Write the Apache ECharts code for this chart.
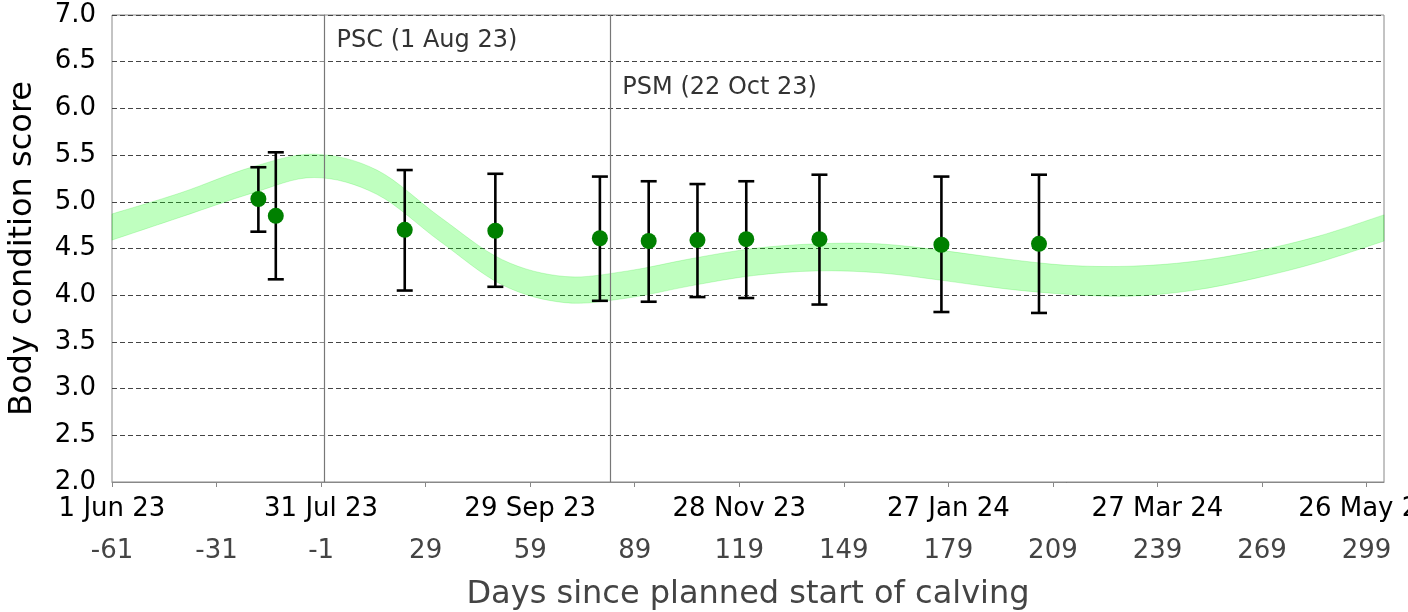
<!DOCTYPE html>
<html>
<head>
<meta charset="utf-8">
<script src="https://cdn.jsdelivr.net/npm/echarts@6/dist/echarts.min.js"></script>
<style>
  html, body { margin: 0; padding: 0; background: #fff; }
  #chart { width: 1408px; height: 612px; }
</style>
</head>
<body>
<div id="chart"></div>
<script>
// target band (lower / upper edge), days since PSC
const bandDays  = [-61, -41, -21, -3, 15, 33, 51, 69, 87, 105, 123, 141, 159, 177, 195, 213, 231, 249, 267, 285, 304]
const bandLower = [4.59, 4.84, 5.09, 5.26, 5.08, 4.58, 4.11, 3.92, 3.97, 4.10, 4.21, 4.26, 4.24, 4.16, 4.07, 4.01, 3.99, 4.05, 4.18, 4.35, 4.58]
const bandUpper = [4.87, 5.10, 5.37, 5.51, 5.34, 4.84, 4.38, 4.20, 4.26, 4.39, 4.50, 4.55, 4.55, 4.48, 4.39, 4.32, 4.31, 4.36, 4.47, 4.63, 4.86]

// observed herd scores
const obsDays = [-19, -14, 23, 49, 79, 93, 107, 121, 142, 177, 205]
const obsMean = [5.03, 4.85, 4.70, 4.69, 4.61, 4.58, 4.59, 4.60, 4.60, 4.54, 4.55]
const obsLow  = [4.68, 4.17, 4.05, 4.09, 3.94, 3.93, 3.98, 3.97, 3.90, 3.82, 3.81]
const obsHigh = [5.37, 5.53, 5.34, 5.30, 5.27, 5.22, 5.19, 5.22, 5.29, 5.27, 5.29]

// axis ticks
const dayTicks = [-61, -31, -1, 29, 59, 89, 119, 149, 179, 209, 239, 269, 299]
const dateTicks = [-61, -1, 59, 119, 179, 239, 299]
const dateLabels = ['1 Jun 23', '31 Jul 23', '29 Sep 23', '28 Nov 23', '27 Jan 24', '27 Mar 24', '26 May 24']

// PSC / PSM markers
const markerDays = [0, 82]
const markerLabels = ['PSC (1 Aug 23)', 'PSM (22 Oct 23)']

const FONT = 'DejaVu Sans'
const myChart = echarts.init(document.getElementById('chart'))

// smooth path (catmull-rom -> bezier) through pixel points
const curvePath = (pts, start) => {
  let d = (start ? 'M' : 'L') + pts[0][0] + ',' + pts[0][1]
  for (let i = 0; i < pts.length - 1; i++) {
    const p0 = pts[Math.max(i - 1, 0)]
    const p1 = pts[i]
    const p2 = pts[i + 1]
    const p3 = pts[Math.min(i + 2, pts.length - 1)]
    const c1 = [p1[0] + (p2[0] - p0[0]) / 6, p1[1] + (p2[1] - p0[1]) / 6]
    const c2 = [p2[0] - (p3[0] - p1[0]) / 6, p2[1] - (p3[1] - p1[1]) / 6]
    d += 'C' + c1[0] + ',' + c1[1] + ',' + c2[0] + ',' + c2[1] + ',' + p2[0] + ',' + p2[1]
  }
  return d
}

const myOption = {
  backgroundColor: '#fff',
  animation: false,
  grid: {
    left: 112,
    right: 24,
    top: 15,
    bottom: 130,
    outerBoundsMode: 'none',
    containLabel: false,
    show: true,
    borderColor: '#888',
    borderWidth: 1
  },
  xAxis: {
    type: 'value',
    min: -61,
    max: 304,
    name: 'Days since planned start of calving',
    nameLocation: 'middle',
    nameGap: 97,
    nameTextStyle: { fontFamily: FONT, fontSize: 32, color: '#444' },
    axisLine: { show: true, lineStyle: { color: '#888' } },
    axisTick: { show: true, length: 5, lineStyle: { color: '#888' }, customValues: dayTicks },
    splitLine: { show: false },
    axisLabel: {
      customValues: dayTicks,
      margin: 6,
      formatter: (v) => {
        const i = dateTicks.indexOf(v)
        const top = i >= 0 ? dateLabels[i] : ' '
        return '{d|' + top + '}\n{n|' + v + '}'
      },
      rich: {
        d: { fontFamily: FONT, fontSize: 26, lineHeight: 42, color: '#000' },
        n: { fontFamily: FONT, fontSize: 26, lineHeight: 42, color: '#444' }
      }
    }
  },
  yAxis: {
    type: 'value',
    min: 2,
    max: 7,
    interval: 0.5,
    name: 'Body condition score',
    nameLocation: 'middle',
    nameGap: 73,
    nameTextStyle: { fontFamily: FONT, fontSize: 32, color: '#000' },
    axisLine: { show: true, lineStyle: { color: '#888' } },
    axisTick: { show: true, length: 5, lineStyle: { color: '#888' } },
    axisLabel: {
      margin: 16,
      fontFamily: FONT,
      fontSize: 26,
      color: '#000',
      formatter: (v) => v.toFixed(1)
    },
    splitLine: { show: true, lineStyle: { color: '#444', type: [5, 3], width: 1 } }
  },
  series: [
    {
      // target band
      type: 'custom',
      silent: true,
      data: [[bandDays[0], bandLower[0]]],
      renderItem: (params, api) => {
        const up = bandDays.map((d, i) => api.coord([d, bandUpper[i]]))
        const lo = bandDays.map((d, i) => api.coord([d, bandLower[i]])).reverse()
        const pathData = curvePath(up, true) + curvePath(lo, false) + 'Z'
        return {
          type: 'path',
          shape: { pathData },
          style: { fill: 'rgba(0, 255, 0, 0.25)', stroke: 'rgba(0, 220, 0, 0.18)', lineWidth: 1 }
        }
      },
      z: 1
    },
    {
      // PSC / PSM lines and their labels
      type: 'scatter',
      symbolSize: 0,
      silent: true,
      itemStyle: { opacity: 1 },
      data: markerDays.map((d, i) => ({ value: [d, [6.72, 6.22][i]], name: markerLabels[i] })),
      label: {
        show: true,
        position: 'right',
        distance: 12,
        formatter: (p) => p.name,
        fontFamily: FONT,
        fontSize: 24,
        color: '#333'
      },
      markLine: {
        symbol: 'none',
        silent: true,
        label: { show: false },
        lineStyle: { color: '#777', width: 1.2, type: 'solid' },
        data: markerDays.map((d) => ({ xAxis: d }))
      },
      z: 2
    },
    {
      // error bars
      type: 'custom',
      silent: true,
      data: obsDays.map((d, i) => [d, obsLow[i], obsHigh[i]]),
      encode: { x: 0, y: [1, 2] },
      renderItem: (params, api) => {
        const lo = api.coord([api.value(0), api.value(1)])
        const hi = api.coord([api.value(0), api.value(2)])
        const w = 8
        const style = { stroke: '#000', lineWidth: 2.6 }
        return {
          type: 'group',
          children: [
            { type: 'line', shape: { x1: lo[0], y1: lo[1], x2: hi[0], y2: hi[1] }, style },
            { type: 'line', shape: { x1: lo[0] - w, y1: lo[1], x2: lo[0] + w, y2: lo[1] }, style },
            { type: 'line', shape: { x1: hi[0] - w, y1: hi[1], x2: hi[0] + w, y2: hi[1] }, style }
          ]
        }
      },
      z: 3
    },
    {
      type: 'scatter',
      symbol: 'circle',
      symbolSize: 16,
      itemStyle: { color: '#008000', opacity: 1 },
      data: obsDays.map((d, i) => [d, obsMean[i]]),
      z: 4
    }
  ]
}
myChart.setOption(myOption)
</script>
</body>
</html>
